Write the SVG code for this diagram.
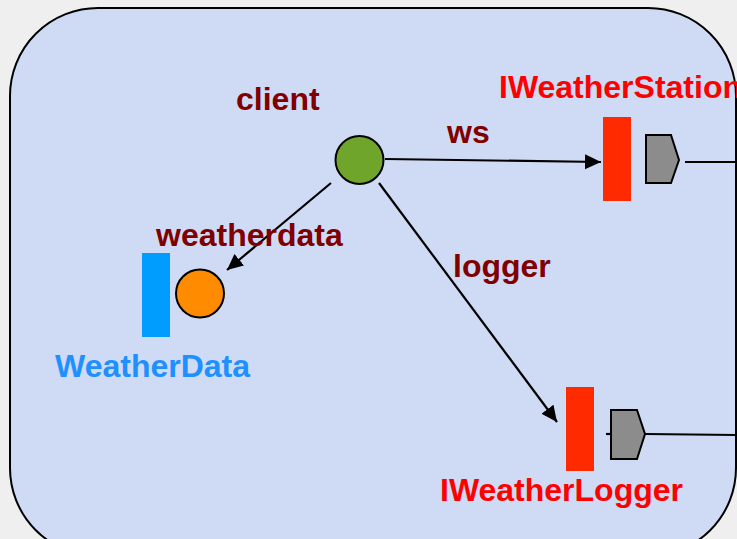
<svg xmlns="http://www.w3.org/2000/svg" width="737" height="539" viewBox="0 0 737 539">
  <defs>
    <marker id="arrow" markerUnits="userSpaceOnUse" markerWidth="17" markerHeight="16" refX="16" refY="7.5" orient="auto">
      <path d="M0,0 L16,7.5 L0,15 Z" fill="#000"/>
    </marker>
    <style>
      .lbl { font-family: "Liberation Sans", Arial, sans-serif; font-weight: bold; font-size: 32px; }
      .role { fill: #800000; }
      .iface { fill: #ff0000; }
      .cls { fill: #1e90ff; }
      .conn { stroke: #000; stroke-width: 2.2; fill: none; }
      .port { fill: #8c8c8c; stroke: #000; stroke-width: 2; stroke-linejoin: miter; }
      .plug { fill: #ff2a00; }
    </style>
  </defs>

  <!-- page background -->
  <rect x="0" y="0" width="737" height="539" fill="#efefef"/>

  <!-- enclosing component -->
  <g id="component">
    <rect x="10" y="8" width="726" height="548" rx="88" ry="88" fill="#cfdbf5" stroke="#000" stroke-width="2"/>
  </g>

  <!-- connectors -->
  <g id="connectors">
    <line class="conn" x1="385" y1="159" x2="601" y2="162" marker-end="url(#arrow)"/>
    <line class="conn" x1="379" y1="183" x2="557" y2="422" marker-end="url(#arrow)"/>
    <line class="conn" x1="331" y1="183" x2="227" y2="270" marker-end="url(#arrow)"/>
    <line class="conn" x1="685" y1="162" x2="737" y2="162"/>
    <line class="conn" x1="645" y1="434" x2="737" y2="435"/>
    <line class="conn" x1="606" y1="434" x2="611" y2="434"/>
  </g>

  <!-- client -->
  <g id="client">
    <circle cx="359.5" cy="160" r="24" fill="#6ea52a" stroke="#000" stroke-width="2"/>
    <text class="lbl role" x="236" y="110">client</text>
  </g>

  <!-- weather data -->
  <g id="weatherdata">
    <rect x="142" y="253" width="28" height="84" fill="#009dff"/>
    <circle cx="200" cy="293.5" r="24" fill="#ff8c00" stroke="#000" stroke-width="2"/>
    <text class="lbl role" x="156" y="246">weatherdata</text>
    <text class="lbl cls" x="55" y="377">WeatherData</text>
  </g>

  <!-- weather station interface -->
  <g id="iweatherstation">
    <rect class="plug" x="603" y="117" width="28" height="84"/>
    <polygon class="port" points="646,135 671,135 679,160 671,183 646,183"/>
    <text class="lbl role" x="447" y="143">ws</text>
    <text class="lbl iface" x="499" y="98">IWeatherStation</text>
  </g>

  <!-- weather logger interface -->
  <g id="iweatherlogger">
    <rect class="plug" x="566" y="387" width="28" height="84"/>
    <polygon class="port" points="611,410 637,410 645,434 637,459 611,459"/>
    <text class="lbl role" x="453" y="277">logger</text>
    <text class="lbl iface" x="440" y="501">IWeatherLogger</text>
  </g>
</svg>
